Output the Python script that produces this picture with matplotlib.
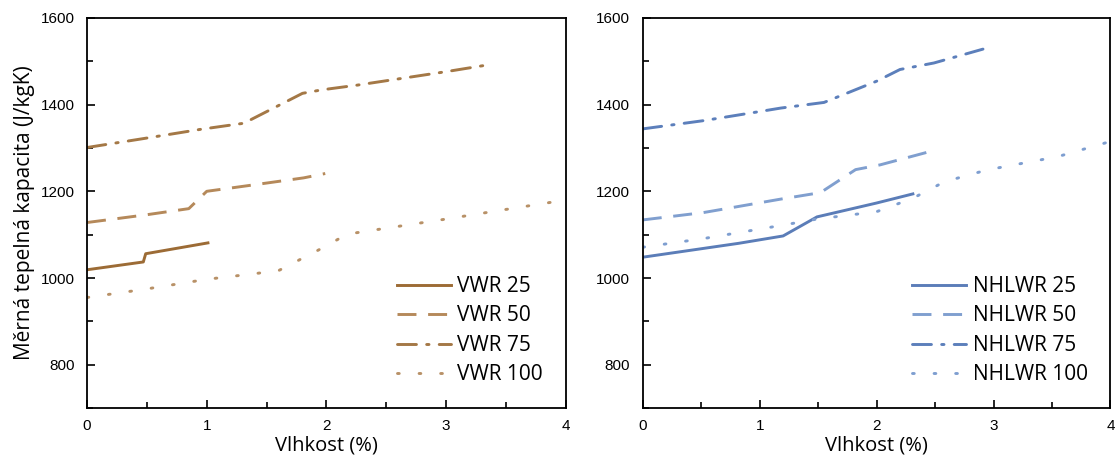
import matplotlib
matplotlib.use("Agg")
import matplotlib.pyplot as plt
from matplotlib.ticker import MultipleLocator

# ---- data ----
vwr25_x = [0, 0.47, 0.49, 1.01]
vwr25_y = [1019, 1037, 1056, 1081]
vwr50_x = [0, 0.5, 0.85, 1.0, 1.37, 1.81, 1.99]
vwr50_y = [1128, 1146, 1160, 1200, 1214, 1231, 1241]
vwr75_x = [0, 0.48, 0.95, 1.31, 1.8, 1.96, 2.26, 3.0, 3.38]
vwr75_y = [1301, 1322, 1343, 1357, 1426, 1434, 1445, 1476, 1493]
vwr100_x = [0, 0.48, 1.0, 1.37, 1.6, 1.81, 2.0, 2.17, 2.55, 3.0, 3.45, 4.0]
vwr100_y = [955, 974, 997, 1009, 1017, 1047, 1074, 1101, 1117, 1136, 1156, 1180]

nh25_x = [0, 0.82, 1.2, 1.49, 2.0, 2.31]
nh25_y = [1048, 1080, 1097, 1141, 1173, 1194]
nh50_x = [0, 0.52, 1.18, 1.52, 1.82, 2.03, 2.46]
nh50_y = [1134, 1151, 1182, 1197, 1250, 1261, 1292]
nh75_x = [0, 0.52, 1.0, 1.18, 1.55, 2.0, 2.2, 2.49, 2.91]
nh75_y = [1344, 1363, 1384, 1392, 1405, 1454, 1481, 1496, 1528]
nh100_x = [0, 0.52, 1.2, 1.49, 2.0, 2.31, 2.58, 2.94, 3.55, 4.0]
nh100_y = [1071, 1091, 1122, 1136, 1153, 1184, 1222, 1249, 1280, 1315]

vwr_labels = ["VWR 25", "VWR 50", "VWR 75", "VWR 100"]
nh_labels = ["NHLWR 25", "NHLWR 50", "NHLWR 75", "NHLWR 100"]
xticks = [0, 1, 2, 3, 4]
yticks = [800, 1000, 1200, 1400, 1600]

# ---- styles ----
brown = ["#9c6b35", "#b5895a", "#a47846", "#b89167"]
blue = ["#5b7db8", "#809fcf", "#5c7fbb", "#7e9ed0"]
styles = ["-", (0, (6.5, 4)), (0, (6.5, 3.5, 0.8, 3.5)), (0, (0.6, 6.8))]
caps = ["butt", "butt", "round", "round"]

label_font = "Open Sans"

fig = plt.figure(figsize=(11.16, 4.59), dpi=100)
ax1 = fig.add_axes([0.078, 0.111, 0.429, 0.850])
ax2 = fig.add_axes([0.576, 0.111, 0.419, 0.850])

def draw(ax, xs, ys, labels, colors):
    for x, y, lab, c, ls, cap in zip(xs, ys, labels, colors, styles, caps):
        ax.plot(x, y, color=c, linestyle=ls, linewidth=2.1, label=lab,
                dash_capstyle=cap)
    ax.set_xlim(0, 4)
    ax.set_ylim(700, 1600)
    ax.set_xticks(xticks)
    ax.set_yticks(yticks)
    ax.xaxis.set_minor_locator(MultipleLocator(0.5))
    ax.yaxis.set_minor_locator(MultipleLocator(100))
    ax.tick_params(which="both", direction="in", top=False, right=False,
                   width=1.2, labelsize=11)
    ax.tick_params(axis="y", which="major", pad=9)
    ax.tick_params(axis="x", which="major", pad=8)
    ax.tick_params(which="major", length=6)
    ax.tick_params(which="minor", length=4)
    for lbl in ax.get_xticklabels() + ax.get_yticklabels():
        lbl.set_fontfamily("Liberation Sans")
    for s in ax.spines.values():
        s.set_linewidth(1.3)
    ax.set_xlabel("Vlhkost (%)", fontfamily=label_font, fontsize=14.5, labelpad=2)
    leg = ax.legend(loc="lower right", frameon=False,
                    prop={"family": label_font, "size": 15},
                    handlelength=2.6, handletextpad=0.3, labelspacing=0.4,
                    borderaxespad=0.7)
    return leg

draw(ax1, [vwr25_x, vwr50_x, vwr75_x, vwr100_x],
     [vwr25_y, vwr50_y, vwr75_y, vwr100_y], vwr_labels, brown)
draw(ax2, [nh25_x, nh50_x, nh75_x, nh100_x],
     [nh25_y, nh50_y, nh75_y, nh100_y], nh_labels, blue)

ax1.set_ylabel("Měrná tepelná kapacita (J/kgK)", fontfamily=label_font,
               fontsize=15, labelpad=4)

fig.savefig("out.png", dpi=100)
